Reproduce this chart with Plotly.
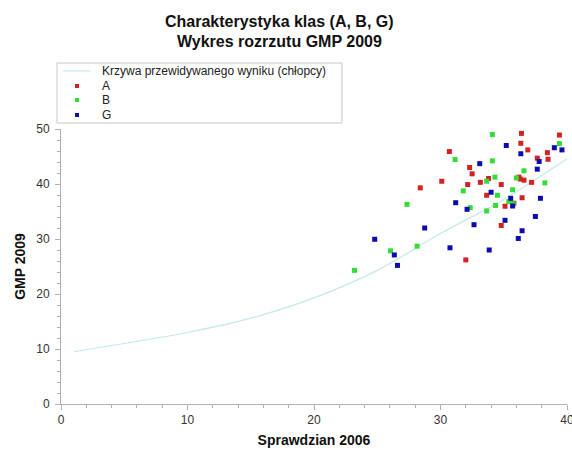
import plotly.graph_objects as go

# ---- data ----
a_x = [36.4, 39.4, 36.35, 30.7, 36.9, 38.45, 37.65, 38.5, 32.3, 32.5, 33.8, 36.2, 36.3, 36.6,
       30.1, 33.15, 32.15, 34.8, 37.2, 28.4, 33.65, 36.45, 35.8, 35.1, 34.8, 32.0]
a_y = [49.2, 48.9, 47.4, 45.9, 46.2, 45.7, 44.7, 44.5, 43.0, 41.85, 41.0, 41.25, 40.9, 40.7,
       40.5, 40.3, 39.9, 39.9, 40.3, 39.3, 37.95, 37.5, 36.5, 35.95, 32.45, 26.2]

b_x = [34.1, 39.4, 31.15, 34.1, 36.6, 34.3, 36.0, 33.65, 38.25, 31.8, 35.7, 34.5, 35.4, 35.75,
       32.35, 33.65, 34.35, 27.35, 28.15, 26.05, 23.2]
b_y = [49.0, 47.35, 44.45, 44.2, 42.4, 41.25, 41.1, 40.5, 40.2, 38.75, 38.95, 37.95, 36.8, 36.4,
       35.7, 35.1, 36.1, 36.3, 28.7, 27.85, 24.3]

g_x = [35.2, 39.0, 39.6, 36.35, 37.8, 33.1, 37.65, 34.0, 35.55, 35.7, 37.9, 31.2, 32.1, 28.75,
       32.65, 35.1, 37.5, 36.45, 36.15, 30.75, 33.85, 24.8, 26.35, 26.6]
g_y = [47.0, 46.6, 46.2, 45.5, 44.1, 43.7, 42.7, 38.5, 37.4, 36.0, 37.4, 36.6, 35.4, 32.0,
       32.6, 33.4, 34.1, 31.5, 30.1, 28.4, 28.0, 29.95, 27.1, 25.2]

curve_x = [1, 5, 10, 15, 20, 25, 30, 35, 40]
curve_y = [9.5, 11.0, 13.0, 15.6, 19.3, 24.3, 31.0, 37.2, 44.6]

x_ticks = [0, 10, 20, 30, 40]
y_ticks = [0, 10, 20, 30, 40, 50]

names = ["Krzywa przewidywanego wyniku (chłopcy)", "A", "B", "G"]
c_curve = "#c4e8ec"
c_a = "#d42222"
c_b = "#35dc35"
c_g = "#0b0bb0"

FONT = "Liberation Sans, Arial, sans-serif"

fig = go.Figure()
fig.add_trace(go.Scatter(x=curve_x, y=curve_y, mode="lines", name=names[0],
                         line=dict(color=c_curve, width=1.2, shape="spline"),
                         showlegend=False))
for xs, ys, col, nm in [(a_x, a_y, c_a, names[1]), (b_x, b_y, c_b, names[2]), (g_x, g_y, c_g, names[3])]:
    fig.add_trace(go.Scatter(x=xs, y=ys, mode="markers", name=nm,
                             marker=dict(symbol="square", size=5, color=col, line=dict(width=0)),
                             showlegend=False))

axcol = "#b0b0b0"
common = dict(showgrid=False, zeroline=False, showline=True, linecolor=axcol, linewidth=1,
              tickcolor=axcol, tickfont=dict(family=FONT, size=12, color="#333333"),
              ticklabeloverflow="allow", automargin=False)

fig.update_layout(
    width=572, height=450,
    margin=dict(l=61, r=5, t=129, b=46, pad=0, autoexpand=False),
    paper_bgcolor="white", plot_bgcolor="white",
    font=dict(family=FONT, color="#222222"),
    xaxis=dict(range=[0, 40], tickvals=x_ticks, ticks="outside", ticklen=5,
               minor=dict(dtick=2, ticks="outside", ticklen=3, tickcolor=axcol),
               title=dict(text="<b>Sprawdzian 2006</b>", font=dict(family=FONT, size=14, color="#111111"),
                          standoff=8),
               **common),
    yaxis=dict(range=[0, 50], tickvals=y_ticks, ticks="outside", ticklen=5, ticklabelstandoff=3,
               minor=dict(dtick=2, ticks="outside", ticklen=3, tickcolor=axcol),
               title=dict(text="<b>GMP 2009</b>", font=dict(family=FONT, size=14, color="#111111"),
                          standoff=7),
               **common),
    xaxis2=dict(range=[0, 40], overlaying="x", anchor="y", side="bottom", tickvals=x_ticks,
                ticks="inside", ticklen=4, showticklabels=False, mirror="ticks",
                minor=dict(dtick=2, ticks="inside", ticklen=3, tickcolor=axcol),
                **common),
    yaxis2=dict(range=[0, 50], overlaying="y", anchor="x", side="left", tickvals=y_ticks,
                ticks="inside", ticklen=4, showticklabels=False, mirror="ticks",
                minor=dict(dtick=2, ticks="inside", ticklen=3, tickcolor=axcol),
                **common),
)

# ---- title as two annotation lines in paper coordinates ----
def px_to_paper_x(px):
    return (px - 61) / 506.0

def px_to_paper_y(py):
    return (404 - py) / 275.0

title_lines = ["Charakterystyka klas (A, B, G)", "Wykres rozrzutu GMP 2009"]
for py, t in zip([22, 42], title_lines):
    fig.add_annotation(xref="paper", yref="paper", x=px_to_paper_x(279), y=px_to_paper_y(py),
                       text="<b>" + t + "</b>", showarrow=False, xanchor="center", yanchor="middle",
                       font=dict(family=FONT, size=16, color="#111111"))

# ---- legend box drawn in paper coordinates ----
box = dict(x0=57, x1=342, y0=63, y1=123)
fig.add_shape(type="rect", xref="paper", yref="paper",
              x0=px_to_paper_x(box["x0"]), x1=px_to_paper_x(box["x1"]),
              y0=px_to_paper_y(box["y1"]), y1=px_to_paper_y(box["y0"]),
              line=dict(color="#c8c8c8", width=1), fillcolor="white", layer="above")
rows = [71, 86, 100, 115]
fig.add_shape(type="line", xref="paper", yref="paper",
              x0=px_to_paper_x(63), x1=px_to_paper_x(90),
              y0=px_to_paper_y(rows[0]), y1=px_to_paper_y(rows[0]),
              line=dict(color=c_curve, width=1.2))
for r, col in zip(rows[1:], [c_a, c_b, c_g]):
    fig.add_shape(type="rect", xref="paper", yref="paper",
                  x0=px_to_paper_x(75), x1=px_to_paper_x(79),
                  y0=px_to_paper_y(r + 2), y1=px_to_paper_y(r - 2),
                  line=dict(width=0), fillcolor=col)
for r, nm in zip(rows, names):
    fig.add_annotation(xref="paper", yref="paper", x=px_to_paper_x(100), y=px_to_paper_y(r),
                       text=nm, showarrow=False, xanchor="left", yanchor="middle",
                       font=dict(family=FONT, size=12, color="#222222"))

fig.write_html("out.html")
